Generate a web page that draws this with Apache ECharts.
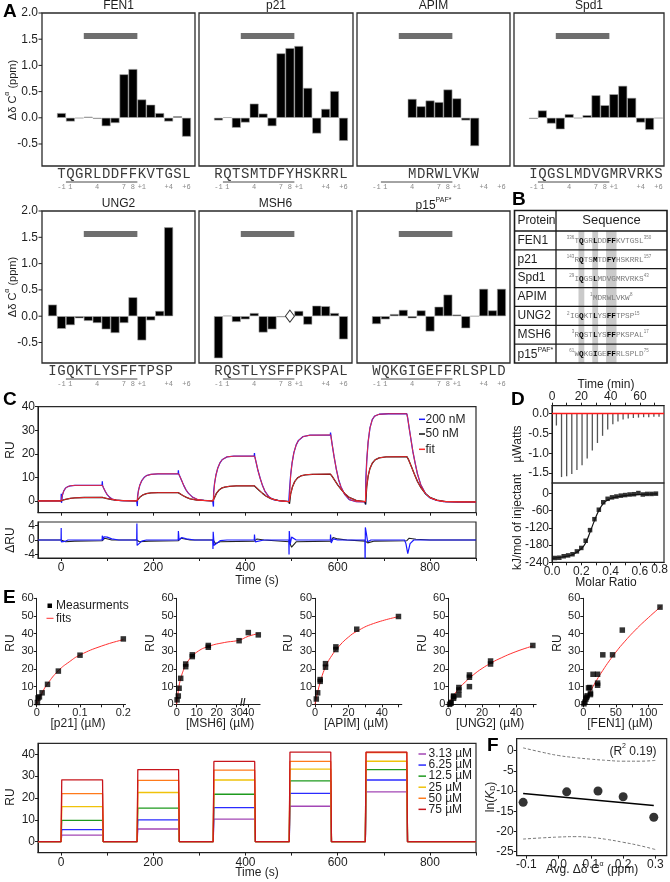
<!DOCTYPE html>
<html>
<head>
<meta charset="utf-8">
<title>PIP-box figure</title>
<script src="https://cdn.jsdelivr.net/npm/echarts@6/dist/echarts.min.js"></script>
<style>
html,body{margin:0;padding:0;background:#fff;}
#c{width:670px;height:882px;}
</style>
</head>
<body>
<div id="c"></div>
<script>
// ================= DATA =================
// ---- Panel A : chemical shift perturbations (ppm), index 0 = residue -1
const aNumbering = ['-1','1','','','4','','','7','8','+1','','','+4','','+6'];
const aYTicks = [-0.5,0,0.5,1,1.5,2];
const motifSpan = [3, 8];
const motifBarLevel = 1.56;
const underlineSpan = [1, 8];
const fen1Seq = 'TQGRLDDFFKVTGSL';
const fen1Start = 0;
const fen1Val = [0.09,-0.07,-0.01,0.02,-0.02,-0.16,-0.10,0.83,0.93,0.35,0.25,0.09,-0.07,0.03,-0.36];
const p21Seq = 'RQTSMTDFYHSKRRL';
const p21Start = 0;
const p21Val = [-0.05,0.01,-0.19,-0.09,0.27,0.08,-0.16,1.23,1.33,1.37,0.57,-0.30,0.17,0.51,-0.44];
const apimSeq = 'MDRWLVKW';
const apimStart = 4;
const apimVal = [0.36,0.22,0.33,0.30,0.54,0.37,-0.05,-0.54];
const spd1Seq = 'IQGSLMDVGMRVRKS';
const spd1Start = 0;
const spd1Val = [-0.02,0.14,-0.11,-0.22,0.07,-0.01,0.05,0.43,0.24,0.45,0.61,0.38,-0.09,-0.23,-0.01];
const ung2Seq = 'IGQKTLYSFFTPSP';
const ung2Start = -1;
const ung2Val = [0.22,-0.24,-0.17,-0.04,-0.09,-0.13,-0.25,-0.32,-0.13,0.36,-0.46,-0.08,0.10,1.69];
const msh6Seq = 'RQSTLYSFFPKSPAL';
const msh6Start = 0;
const msh6Val = [-0.80,0.01,-0.11,-0.06,0.06,-0.31,-0.25,-0.02,null,0.10,-0.16,0.20,0.19,0.06,-0.44];
const msh6Missing = [8];
const p15Seq = 'WQKGIGEFFRLSPLD';
const p15Start = 0;
const p15Val = [-0.15,-0.06,0.04,0.12,-0.04,0.11,-0.29,0.18,0.41,0.03,-0.23,0,0.52,0.11,0.52];

// ---- Panel B : table
const tblProteins = ['FEN1','p21','Spd1','APIM','UNG2','MSH6','p15'];
const tblSeqs = ['TQGRLDDFFKVTGSL','RQTSMTDFYHSKRRL','IQGSLMDVGMRVRKS','MDRWLVKW','IGQKTLYSFFTPSP','RQSTLYSFFPKSPAL','WQKGIGEFFRLSPLD'];
const tblStart = [0,0,0,4,-1,0,0];
const tblFirst = ['336','143','29','1','2','3','61'];
const tblLast = ['350','157','43','8','15','17','75'];
const tblBold = [[1,4,7,8],[1,4,7,8],[1,4],[],[1,4,7,8],[1,4,7,8],[1,4,7,8]];
const tblStripes = [[1,1],[4,4],[7,8]];

// ---- Panel C : SPR sensorgrams (time s, RU)
const c200 = [[-50,0],[0,0],[0.5,3.0],[1,-0.8],[3,2.5],[6,4.3],[10,5.5],[15,6.1],[20,6.4],[30,6.6],[60,6.6],[89,6.6],[89.5,8.3],[90,6.6],[92,5.6],[96,4.0],[100,2.7],[105,1.6],[110,0.9],[118,0.3],[130,0.1],[164,0.05],
 [165,0],[165.5,-2.2],[166,2.0],[168,4.5],[171,6.8],[175,8.6],[180,9.9],[185,10.7],[195,11.3],[210,11.5],[254,11.5],[254.5,13.0],[255,11.5],[258,10.3],[262,8.5],[266,6.6],[271,4.7],[276,3.3],[285,1.6],[295,0.7],[310,0.2],[329,0],
 [330,0],[330.5,-2.4],[331,4.0],[333,7.5],[336,11],[340,14],[345,16.3],[350,17.6],[360,18.7],[375,19.0],[419,19.0],[419.5,20.3],[420,19],[423,16.5],[427,13],[432,9.5],[437,6.5],[442,4.2],[450,1.9],[460,0.6],[475,0.0],[494,-0.3],
 [495,-0.3],[495.5,-1.0],[496,6],[498,11],[501,16],[505,20.5],[510,23.8],[515,25.7],[525,27.3],[540,27.9],[584,28.0],[584.5,29.0],[585,28],[588,24],[592,19],[597,13.5],[602,9],[607,6],[615,2.8],[625,0.6],[640,-0.3],[659,-0.4],
 [660,-0.4],[660.5,-1.5],[661,9],[663,17],[666,25],[670,31],[675,34.5],[680,36],[690,36.8],[710,37],[750,37],[750.5,37.3],[752,35],[755,31],[759,26],[763,21],[768,16],[773,11.5],[780,7],[790,3.2],[800,1.3],[815,0.2],[830,-0.3],[860,-0.5],[900,-0.5]];
const c50 = [[-50,0],[0,0],[0.5,0.8],[1,-0.3],[5,0.4],[10,0.7],[20,1.1],[30,1.3],[50,1.45],[89,1.5],[92,1.4],[100,1.0],[110,0.6],[120,0.35],[135,0.15],[164,0],
 [165,0],[165.5,-0.6],[168,0.9],[172,1.8],[178,2.6],[185,3.1],[195,3.4],[210,3.5],[254,3.5],[258,3.1],[265,2.2],[272,1.5],[280,0.9],[295,0.3],[329,0],
 [330,0],[330.5,-0.8],[333,1.5],[337,3.2],[342,4.5],[348,5.4],[355,5.9],[365,6.2],[380,6.4],[419,6.4],[423,5.8],[430,4.4],[437,3.2],[445,2.0],[455,1.0],[470,0.2],[494,-0.3],
 [495,-0.3],[495.5,-1.2],[498,3],[502,6],[507,8.3],[513,9.8],[520,10.6],[530,11.1],[545,11.3],[584,11.4],[588,10.4],[594,8.6],[600,6.8],[607,5],[615,3.2],[625,1.5],[640,0.2],[659,-0.3],
 [660,-0.3],[660.5,-1.5],[663,6],[666,10.5],[670,13.8],[675,16],[681,17.4],[690,18.3],[705,18.7],[750,18.8],[754,17.4],[760,14.5],[766,11.5],[773,8.3],[780,5.8],[790,3.2],[800,1.5],[815,0.3],[835,-0.3],[900,-0.4]];
const cFit200 = [[-50,0],[0,0],[3,2.5],[6,4.3],[10,5.5],[15,6.1],[20,6.4],[30,6.6],[90,6.6],[92,5.6],[96,4.0],[100,2.7],[105,1.6],[110,0.9],[118,0.3],[130,0.1],[165,0],
 [168,4.5],[171,6.8],[175,8.6],[180,9.9],[185,10.7],[195,11.3],[210,11.5],[255,11.5],[258,10.3],[262,8.5],[266,6.6],[271,4.7],[276,3.3],[285,1.6],[295,0.7],[310,0.2],[330,0],
 [333,7.5],[336,11],[340,14],[345,16.3],[350,17.6],[360,18.7],[375,19.0],[420,19.0],[423,16.5],[427,13],[432,9.5],[437,6.5],[442,4.2],[450,1.9],[460,0.6],[475,0.0],[495,-0.3],
 [498,11],[501,16],[505,20.5],[510,23.8],[515,25.7],[525,27.3],[540,27.9],[585,28.0],[588,24],[592,19],[597,13.5],[602,9],[607,6],[615,2.8],[625,0.6],[640,-0.3],[660,-0.4],
 [663,17],[666,25],[670,31],[675,34.5],[680,36],[690,36.8],[710,37],[750,37],[752,35],[755,31],[759,26],[763,21],[768,16],[773,11.5],[780,7],[790,3.2],[800,1.3],[815,0.2],[830,-0.3],[860,-0.5],[900,-0.5]];
const cFit50 = [[-50,0],[0,0],[5,0.4],[10,0.7],[20,1.1],[30,1.3],[50,1.45],[90,1.5],[92,1.4],[100,1.0],[110,0.6],[120,0.35],[135,0.15],[165,0],
 [168,0.9],[172,1.8],[178,2.6],[185,3.1],[195,3.4],[210,3.5],[255,3.5],[258,3.1],[265,2.2],[272,1.5],[280,0.9],[295,0.3],[330,0],
 [333,1.5],[337,3.2],[342,4.5],[348,5.4],[355,5.9],[365,6.2],[380,6.4],[420,6.4],[423,5.8],[430,4.4],[437,3.2],[445,2.0],[455,1.0],[470,0.2],[495,-0.3],
 [498,3],[502,6],[507,8.3],[513,9.8],[520,10.6],[530,11.1],[545,11.3],[585,11.4],[588,10.4],[594,8.6],[600,6.8],[607,5],[615,3.2],[625,1.5],[640,0.2],[660,-0.3],
 [663,6],[666,10.5],[670,13.8],[675,16],[681,17.4],[690,18.3],[705,18.7],[750,18.8],[754,17.4],[760,14.5],[766,11.5],[773,8.3],[780,5.8],[790,3.2],[800,1.5],[815,0.3],[835,-0.3],[900,-0.4]];
const cRes200 = [[-50,0],[0,0],[0.3,3.3],[0.6,-0.5],[3,-0.8],[8,-0.4],[15,0],[89,0],[89.5,1.2],[91,0],[93,0.9],[100,0.8],[110,0.3],[125,0],[164,0],[164.5,4.6],[165,-1.5],[168,-1.5],[175,-0.3],[185,0],[254,0],[254.5,2.5],[256,0],[262,0.7],[272,0.3],[290,0],[329,0],[329.5,-2.5],[330,2.3],[332,-1.5],[337,-1.0],[345,-0.2],[360,0],[419,0],[419.5,1.5],[421,-0.5],[425,-0.3],[440,0],[494,0],[494.5,-4],[495,2.5],[497,-1.2],[500,0.8],[503,0.5],[510,0],[584,0],[584.5,1.5],[586,-0.8],[590,0.3],[600,0],[659,0],[659.5,-7],[660,3.5],[662,2.0],[665,-0.5],[672,0],[745,0],[748,-1],[752,-3.8],[757,-1],[765,0],[900,0]];
const cRes50 = [[-50,0],[0,0],[2,-0.3],[10,-0.5],[30,-0.3],[89,-0.2],[95,0.5],[110,0],[164,0],[170,-0.5],[190,-0.3],[254,-0.2],[260,0.5],[280,0],[330,0],[335,-1],[345,-0.5],[419,-0.3],[425,0.3],[440,0],[495,-0.5],[500,-2],[510,-0.5],[585,-0.3],[590,0.7],[600,0.3],[620,0],[660,-0.3],[665,-0.8],[680,-0.3],[750,-0.2],[755,0.5],[770,0.2],[800,0],[900,0]];

// ---- Panel D : ITC
const itcTime = [3,6.5,10,13.5,17,20.5,24,27.5,31,34.5,38,41.5,45,48.5,52,55.5,59,62.5,66,69.5,73];
const itcPeak = [-0.3,-1.6,-1.58,-1.52,-1.42,-1.3,-1.13,-0.93,-0.74,-0.56,-0.4,-0.27,-0.2,-0.15,-0.12,-0.11,-0.1,-0.09,-0.09,-0.08,-0.08];
const itcRatio = [0.02,0.05,0.08,0.11,0.14,0.17,0.20,0.23,0.26,0.29,0.32,0.35,0.38,0.41,0.44,0.47,0.50,0.53,0.56,0.59,0.62,0.65,0.68,0.71];
const itcHeat = [-225,-224,-219,-216,-212,-202,-190,-165,-128,-90,-57,-31,-19,-14,-11,-8,-6,-4,-3,1,-4,-2,-2,-1];
const itcFit = [[0,-226],[0.1,-219],[0.15,-211],[0.2,-193],[0.23,-172],[0.26,-135],[0.29,-95],[0.32,-60],[0.35,-36],[0.38,-23],[0.42,-15],[0.5,-8],[0.6,-4],[0.72,-2]];

// ---- Panel E : steady-state binding
const p21Conc = [0.0016,0.0031,0.0063,0.0125,0.025,0.05,0.1,0.2];
const p21RU = [1.0,3.6,4.2,6.5,11.3,18.8,27.8,37.0];
const p21Fit = [[0,0],[0.0125,6.5],[0.025,11.6],[0.05,19],[0.075,24],[0.1,27.9],[0.15,33],[0.2,36.6]];
const msh6Conc = [0.2,0.8,1.2,2,4.5,4.5,7.8,7.8,15.8,15.8,31.2,40,80];
const msh6RU = [2.5,4.7,9.1,14.7,21.3,22.8,27.0,28.0,32.3,33.3,36.0,40.6,39.3];
const msh6Fit = [[0,0],[1,9],[2,14.5],[4,21],[6,25],[10,29.5],[16,32.8],[24,35],[31.2,36.3],[40,38.5],[80,40]];
const apimConc = [0.8,1.6,3.1,3.1,6.3,6.3,12.5,12.5,25,50];
const apimRU = [3,6.5,13,14,21,23,31,32.5,42.5,49.7];
const apimFit = [[0,0],[1.5,6.5],[3,12],[6,20.5],[10,27.5],[15,33.5],[20,38],[25,41.3],[35,45.7],[50,49.6]];
const ung2Conc = [0.78,1.56,1.56,3.13,3.13,3.13,6.25,6.25,6.25,12.5,12.5,12.5,25,25,50];
const ung2RU = [0,0.6,1.1,3.4,4.3,4.7,5.3,8.1,9.5,10,15.3,16.6,22.8,24.5,33.3];
const ung2Fit = [[0,0],[5,7.5],[10,12.6],[15,16.8],[20,20.3],[25,23.2],[30,25.7],[40,29.8],[50,33]];
const fen1Conc = [1,2.5,4,5,6,8,10,11,11,15,22,22,22,30,45,60,118];
const fen1RU = [0.3,1.2,3,4,4.8,9.3,9.5,6.3,5.5,17,17,12,10.8,28,28,42,55];
const fen1Fit = [[0,0],[10,6.8],[20,13.3],[30,19.2],[40,24.6],[50,29.5],[60,34],[80,42],[100,49],[120,55.5]];
const eInjStart = [0,165,330,495,660];
const eInjEnd = [90,255,420,585,750];
const eConcNames = ['3.13 µM','6.25 µM','12.5 µM','25 µM','50 µM','75 µM'];
const eConcColors = ['#a347b5','#2b2bff','#1e9a1e','#f0c20a','#ff7a1a','#c8161d'];
const ePlateau = [
  [3.0,5.8,10.3,16.2,22.8],
  [5.5,10.0,15.6,22.1,28.2],
  [9.7,15.3,21.7,27.8,33.0],
  [16.0,22.5,28.2,33.2,36.8],
  [22.0,28.0,32.7,36.7,40.8],
  [28.3,33.0,36.7,41.0,41.0]];

// ---- Panel F
const fX = [-0.11,0.025,0.122,0.2,0.295];
const fY = [-12.8,-10.2,-10.0,-11.4,-16.5];
const fLine = [[-0.11,-10.6],[0.295,-13.6]];
const fUpper = [[-0.11,0.7],[-0.05,-0.4],[0,-1.2],[0.05,-1.7],[0.1,-2.1],[0.15,-2.4],[0.2,-2.6],[0.25,-2.6],[0.3,-2.4]];
const fLower = [[-0.11,-21.9],[-0.05,-21.6],[0,-21.4],[0.05,-21.3],[0.1,-21.5],[0.15,-22],[0.2,-22.7],[0.25,-23.5],[0.3,-24.5]];

// ================= BUILD =================
const FONT = "'Liberation Sans', Arial, Helvetica, sans-serif";
const MONO = "'Liberation Mono', 'DejaVu Sans Mono', monospace";
const SLOT = 8.93;
const AX0 = 10; // residue index shift on the panel-A x axes (keeps the axis range positive)
const INK = '#1e1e1e';
const grid = [], xAxis = [], yAxis = [], series = [];
function addGrid(g){ grid.push(Object.assign({containLabel:false}, g)); return grid.length - 1; }
const tickLbl = {fontFamily:FONT, fontSize:11, color:INK};

// ---- A
const aPanels = [
 {title:'FEN1', seq:fen1Seq, start:fen1Start, val:fen1Val, box:[42,13,153,153], ymin:-0.92, yl:true},
 {title:'p21', seq:p21Seq, start:p21Start, val:p21Val, box:[199,13,154,153], ymin:-0.92},
 {title:'APIM', seq:apimSeq, start:apimStart, val:apimVal, box:[357,13,153,153], ymin:-0.92},
 {title:'Spd1', seq:spd1Seq, start:spd1Start, val:spd1Val, box:[514,13,150,153], ymin:-0.92},
 {title:'UNG2', seq:ung2Seq, start:ung2Start, val:ung2Val, box:[42,211,153,152], ymin:-0.89, yl:true},
 {title:'MSH6', seq:msh6Seq, start:msh6Start, val:msh6Val, box:[199,211,153,152], ymin:-0.89, missing:msh6Missing},
 {title:'p15', sup:'PAF*', seq:p15Seq, start:p15Start, val:p15Val, box:[357,211,153,152], ymin:-0.89}
];
aPanels.forEach(p => {
  const [L,T,Wd,H] = p.box;
  const gi = addGrid({left:L, top:T, width:Wd, height:H, show:true, borderColor:'#2a2a2a', borderWidth:1.3, backgroundColor:'rgba(0,0,0,0)'});
  p.gi = gi;
  const xmin = AX0 - 0.5 - 15/SLOT, xmax = xmin + Wd/SLOT;
  const idx = []; for (let k = Math.min(0,p.start); k <= 14; k++) idx.push(AX0 + k);
  xAxis.push({type:'value', gridIndex:gi, min:xmin, max:xmax, axisLine:{show:false}, axisTick:{show:false}, splitLine:{show:false},
    axisLabel:{customValues:idx, margin:0, formatter:(v)=>{ const k = Math.round(v) - AX0; const ch = p.seq[k - p.start] || ' '; const n = (k >= 0 && aNumbering[k]) ? aNumbering[k] : ' '; return '{l|' + ch + '}\n{n|' + n + '}'; },
      rich:{l:{fontFamily:MONO, fontSize:14, color:'#3a3a3a', lineHeight:16, align:'center'}, n:{fontFamily:MONO, fontSize:7, color:'#8a8a8a', lineHeight:10, align:'center'}}}});
  yAxis.push({type:'value', gridIndex:gi, position:'left', min:p.ymin, max:2.0, axisLine:{show:false}, splitLine:{show:false},
    axisTick:{show:false},
    axisLabel:{show:!!p.yl, customValues:aYTicks, formatter:v=>v.toFixed(1), fontFamily:FONT, fontSize:12, color:INK, margin:4}});
  series.push({type:'bar', xAxisIndex:gi, yAxisIndex:gi, barWidth:SLOT, silent:true,
    data:p.val.map((v,k)=>[AX0+p.start+k, v]).filter(d=>d[1]!==null),
    itemStyle:{color:'#000', borderColor:'#a8a8a8', borderWidth:0.6},
    markLine:{silent:true, symbol:['none','none'], label:{show:false}, emphasis:{disabled:true},
      lineStyle:{color:'#6e6e6e', width:6, type:'solid'},
      data:[[{coord:[AX0+motifSpan[0]-0.5, motifBarLevel]},{coord:[AX0+motifSpan[1]+0.5, motifBarLevel]}]]}});
  if (p.missing) series.push({type:'scatter', xAxisIndex:gi, yAxisIndex:gi, symbol:'diamond', symbolSize:[9,12], silent:true,
    data:p.missing.map(k=>[AX0+k,0]), itemStyle:{color:'#fff', borderColor:'#000', borderWidth:1}});
});

// ---- C
const timeTicks = []; for (let t = 0; t <= 900; t += 100) timeTicks.push(t);
const giC = addGrid({left:38, top:406.7, width:438, height:106, show:true, borderColor:'#2a2a2a', borderWidth:1.2});
xAxis.push({type:'value', gridIndex:giC, min:-50, max:900, splitLine:{show:false}, axisLine:{lineStyle:{color:INK}},
  axisLabel:{show:false}, axisTick:{customValues:timeTicks, length:3, lineStyle:{color:INK}}});
yAxis.push({type:'value', gridIndex:giC, min:-5, max:40, splitLine:{show:false}, axisLine:{show:true, lineStyle:{color:INK}},
  axisTick:{customValues:[0,10,20,30,40], length:3, lineStyle:{color:INK}}, axisLabel:Object.assign({customValues:[0,10,20,30,40], margin:3}, tickLbl, {fontSize:12})});
const lineS = (gi, data, color, w, name, z) => ({type:'line', name, xAxisIndex:gi, yAxisIndex:gi, data, symbol:'none', silent:true, z:z||2, lineStyle:{color, width:w}, itemStyle:{color}});
series.push(lineS(giC, c200, '#1a1aff', 1.3, '200 nM', 2));
series.push(lineS(giC, c50, '#111', 1.3, '50 nM', 3));
series.push(lineS(giC, cFit200, '#ff2a2a', 0.9, 'fit', 4));
series.push(lineS(giC, cFit50, '#ff2a2a', 0.9, 'fit', 4));
const giCr = addGrid({left:38, top:522, width:438, height:36, show:true, borderColor:'#2a2a2a', borderWidth:1.2});
xAxis.push({type:'value', gridIndex:giCr, min:-50, max:900, splitLine:{show:false}, axisLine:{lineStyle:{color:INK}},
  axisTick:{customValues:timeTicks, length:3, lineStyle:{color:INK}}, axisLabel:Object.assign({customValues:[0,200,400,600,800], margin:4}, tickLbl, {fontSize:12})});
yAxis.push({type:'value', gridIndex:giCr, min:-5, max:5, splitLine:{show:false}, axisLine:{show:true, lineStyle:{color:INK}},
  axisTick:{customValues:[-4,0,4], length:3, lineStyle:{color:INK}}, axisLabel:Object.assign({customValues:[-4,0,4], margin:3}, tickLbl, {fontSize:12})});
series.push(lineS(giCr, cRes50, '#222', 1.1, 'r50', 2));
series.push(lineS(giCr, cRes200, '#1a1aff', 1.2, 'r200', 3));

// ---- D
const giD1 = addGrid({left:552, top:405.7, width:112, height:77.3, show:true, borderColor:'#2a2a2a', borderWidth:1.2});
xAxis.push({type:'value', gridIndex:giD1, position:'top', min:0, max:76.4, splitLine:{show:false}, axisLine:{lineStyle:{color:INK}},
  axisTick:{customValues:[0,10,20,30,40,50,60,70], length:3, lineStyle:{color:INK}}, axisLabel:Object.assign({customValues:[0,20,40,60], margin:3}, tickLbl, {fontSize:12})});
yAxis.push({type:'value', gridIndex:giD1, min:-1.75, max:0.2, splitLine:{show:false}, axisLine:{show:true, lineStyle:{color:INK}},
  axisTick:{customValues:[0,-0.5,-1,-1.5], length:3, lineStyle:{color:INK}}, axisLabel:Object.assign({customValues:[0,-0.5,-1,-1.5], formatter:v=>v.toFixed(1), margin:3}, tickLbl, {fontSize:12})});
series.push({type:'bar', xAxisIndex:giD1, yAxisIndex:giD1, barWidth:1.3, silent:true, data:itcTime.map((t,i)=>[t, itcPeak[i]]), itemStyle:{color:'#555'},
  markLine:{silent:true, symbol:['none','none'], label:{show:false}, lineStyle:{color:'#ff1a1a', width:1.3, type:'solid'}, data:[{yAxis:0}]}});
const giD2 = addGrid({left:552, top:483, width:112, height:79.3, show:true, borderColor:'#2a2a2a', borderWidth:1.2});
xAxis.push({type:'value', gridIndex:giD2, min:0, max:0.765, splitLine:{show:false}, axisLine:{lineStyle:{color:INK}},
  axisTick:{customValues:[0,0.1,0.2,0.3,0.4,0.5,0.6,0.7], length:3, lineStyle:{color:INK}}, axisLabel:Object.assign({customValues:[0,0.2,0.4,0.6], formatter:v=>v.toFixed(1), margin:3}, tickLbl, {fontSize:12})});
yAxis.push({type:'value', gridIndex:giD2, min:-240, max:36, splitLine:{show:false}, axisLine:{show:true, lineStyle:{color:INK}},
  axisTick:{customValues:[0,-60,-120,-180,-240], length:3, lineStyle:{color:INK}}, axisLabel:Object.assign({customValues:[0,-60,-120,-180,-240], margin:3}, tickLbl, {fontSize:12})});
series.push({type:'line', xAxisIndex:giD2, yAxisIndex:giD2, data:itcFit, smooth:true, symbol:'none', silent:true, lineStyle:{color:'#111', width:1.2}});
series.push({type:'scatter', xAxisIndex:giD2, yAxisIndex:giD2, data:itcRatio.map((x,i)=>[x, itcHeat[i]]), symbol:'rect', symbolSize:4.5, silent:true, itemStyle:{color:'#000'}});

// ---- E top
const msh6Disp = c => c <= 32 ? c : 35.8 + (c - 40) / 8;
const eTop = [
 {conc:p21Conc, ru:p21RU, fit:p21Fit, left:36.7, width:88.8, max:0.205, ticks:[0,0.05,0.1,0.15,0.2], labels:[0,0.1,0.2], map:c=>c, fmt:v=>v===0?'0':String(Math.round(v*10)/10)},
 {conc:msh6Conc, ru:msh6RU, fit:msh6Fit, left:176.7, width:83.4, max:41.7, ticks:[0,10,20,30,msh6Disp(40),msh6Disp(80)], labels:[0,10,20,30,msh6Disp(40),msh6Disp(80)], map:msh6Disp, fmt:v=>v<=32?String(v):(Math.abs(v-msh6Disp(40))<0.01?'40':'80')},
 {conc:apimConc, ru:apimRU, fit:apimFit, left:315, width:86.8, max:52, ticks:[0,10,20,30,40,50], labels:[0,20,40], map:c=>c, fmt:v=>String(v)},
 {conc:ung2Conc, ru:ung2RU, fit:ung2Fit, left:448.3, width:87.9, max:52, ticks:[0,10,20,30,40,50], labels:[0,20,40], map:c=>c, fmt:v=>String(v)},
 {conc:fen1Conc, ru:fen1RU, fit:fen1Fit, left:583.3, width:79.3, max:122, ticks:[0,25,50,75,100], labels:[0,50,100], map:c=>c, fmt:v=>String(v)}
];
eTop.forEach(e => {
  const gi = addGrid({left:e.left, top:598.3, width:e.width, height:106});
  e.gi = gi;
  xAxis.push({type:'value', gridIndex:gi, min:0, max:e.max, splitLine:{show:false}, axisLine:{lineStyle:{color:INK}},
    axisTick:{customValues:e.ticks, length:3, lineStyle:{color:INK}}, axisLabel:Object.assign({customValues:e.labels, formatter:e.fmt, margin:3}, tickLbl, {fontSize:11})});
  yAxis.push({type:'value', gridIndex:gi, min:0, max:60, splitLine:{show:false}, axisLine:{show:true, lineStyle:{color:INK}},
    axisTick:{customValues:[0,10,20,30,40,50,60], length:3, lineStyle:{color:INK}}, axisLabel:Object.assign({customValues:[0,10,20,30,40,50,60], margin:3}, tickLbl, {fontSize:11})});
  series.push({type:'line', xAxisIndex:gi, yAxisIndex:gi, smooth:true, symbol:'none', silent:true, data:e.fit.map(d=>[e.map(d[0]), d[1]]), lineStyle:{color:'#ff3030', width:1}, z:3});
  series.push({type:'scatter', xAxisIndex:gi, yAxisIndex:gi, symbol:'rect', symbolSize:5.5, silent:true, data:e.conc.map((c,i)=>[e.map(c), e.ru[i]]), itemStyle:{color:'#000'}, z:4});
});

// ---- E bottom
const giEb = addGrid({left:38, top:743.3, width:438, height:109.3, show:true, borderColor:'#2a2a2a', borderWidth:1.2});
xAxis.push({type:'value', gridIndex:giEb, min:-50, max:900, splitLine:{show:false}, axisLine:{lineStyle:{color:INK}},
  axisTick:{customValues:timeTicks, length:3, lineStyle:{color:INK}}, axisLabel:Object.assign({customValues:[0,200,400,600,800], margin:4}, tickLbl, {fontSize:12})});
yAxis.push({type:'value', gridIndex:giEb, min:-5, max:45, splitLine:{show:false}, axisLine:{show:true, lineStyle:{color:INK}},
  axisTick:{customValues:[0,10,20,30,40], length:3, lineStyle:{color:INK}}, axisLabel:Object.assign({customValues:[0,10,20,30,40], margin:3}, tickLbl, {fontSize:12})});
ePlateau.forEach((pl, ci) => {
  const d = [[-50,0]];
  eInjStart.forEach((s, k) => { d.push([s,0],[s+1.5,pl[k]],[eInjEnd[k],pl[k]],[eInjEnd[k]+1.5,0]); });
  d.push([900,0]);
  series.push({type:'line', xAxisIndex:giEb, yAxisIndex:giEb, data:d, symbol:'none', silent:true, z:2+ci, lineStyle:{color:eConcColors[ci], width:1.3}});
});

// ---- F
const giF = addGrid({left:516.7, top:738.6, width:150, height:117, show:true, borderColor:'#2a2a2a', borderWidth:1.2});
xAxis.push({type:'value', gridIndex:giF, min:-0.13, max:0.335, splitLine:{show:false}, axisLine:{lineStyle:{color:INK}},
  axisTick:{customValues:[-0.1,0,0.1,0.2,0.3], length:3, lineStyle:{color:INK}}, axisLabel:Object.assign({customValues:[-0.1,0,0.1,0.2,0.3], formatter:v=>v.toFixed(1), margin:3}, tickLbl, {fontSize:12})});
yAxis.push({type:'value', gridIndex:giF, min:-26, max:3, splitLine:{show:false}, axisLine:{show:true, lineStyle:{color:INK}},
  axisTick:{customValues:[0,-5,-10,-15,-20,-25], length:3, lineStyle:{color:INK}}, axisLabel:Object.assign({customValues:[0,-5,-10,-15,-20,-25], margin:3}, tickLbl, {fontSize:12})});
series.push({type:'line', xAxisIndex:giF, yAxisIndex:giF, data:fUpper, smooth:true, symbol:'none', silent:true, lineStyle:{color:'#666', width:0.9, type:[3,2]}});
series.push({type:'line', xAxisIndex:giF, yAxisIndex:giF, data:fLower, smooth:true, symbol:'none', silent:true, lineStyle:{color:'#666', width:0.9, type:[3,2]}});
series.push({type:'line', xAxisIndex:giF, yAxisIndex:giF, data:fLine, symbol:'none', silent:true, lineStyle:{color:'#000', width:1.6}});
series.push({type:'scatter', xAxisIndex:giF, yAxisIndex:giF, data:fX.map((x,i)=>[x,fY[i]]), symbolSize:9, silent:true, itemStyle:{color:'#000'}});

// axes never cross at zero
xAxis.concat(yAxis).forEach(a => { a.axisLine = Object.assign({}, a.axisLine, {onZero:false}); });

const chart = echarts.init(document.getElementById('c'), null, {renderer:'canvas'});
chart.setOption({animation:false, backgroundColor:'#fff', grid, xAxis, yAxis, series});

// ================= GRAPHICS (text, table, legends) =================
const G = [];
function T(x, y, text, o) {
  o = o || {};
  return {type:'text', x, y, rotation:o.rot ? Math.PI/2 : 0, z:100, silent:true,
    style:{text, fill:o.color || INK, fontSize:o.size || 12, fontFamily:o.family || FONT, fontWeight:o.weight || 'normal',
      align:o.align || 'center', verticalAlign:o.va || 'middle', rich:o.rich}};
}
const supRich = (size) => ({a:{fontSize:size, fontFamily:FONT, fill:INK, lineHeight:size+3, verticalAlign:'bottom'},
  s:{fontSize:Math.round(size*0.62), fontFamily:FONT, fill:INK, lineHeight:Math.round(size*0.62)+1, verticalAlign:'top'},
  i:{fontSize:size, fontFamily:FONT, fontStyle:'italic', fill:INK, lineHeight:size+3, verticalAlign:'bottom'},
  d:{fontSize:Math.round(size*0.62), fontFamily:FONT, fill:INK, lineHeight:Math.round(size*0.62)+1, verticalAlign:'bottom'}});
// panel letters
[['A',3,12],['B',512,200],['C',3,400],['D',511,400],['E',3,598],['F',487,746]].forEach(l => G.push(T(l[1], l[2], l[0], {size:19, weight:'bold', align:'left', color:'#000'})));
// A titles, y ticks, underlines
aPanels.forEach(p => {
  const [L,T0,Wd,H] = p.box;
  if (p.sup) G.push(T(L+Wd/2, T0-7, '{a|'+p.title+'}{s|'+p.sup+'}', {rich:supRich(12)}));
  else G.push(T(L+Wd/2, T0-7, p.title, {size:12}));
  if (p.yl) aYTicks.forEach(v => {
    const py = chart.convertToPixel({gridIndex:p.gi}, [AX0, v])[1];
    G.push({type:'line', z:100, silent:true, shape:{x1:L-3.5, y1:py, x2:L, y2:py}, style:{stroke:INK, lineWidth:1}});
  });
  const a = chart.convertToPixel({gridIndex:p.gi}, [AX0+underlineSpan[0]-0.5, 0]);
  const b = chart.convertToPixel({gridIndex:p.gi}, [AX0+underlineSpan[1]+0.5, 0]);
  const yy = T0 + H + 16;
  G.push({type:'line', z:100, silent:true, shape:{x1:a[0], y1:yy, x2:b[0], y2:yy}, style:{stroke:'#333', lineWidth:0.9}});
});
G.push(T(11, 90, '{a|Δδ C}{s|α}{a| (ppm)}', {rot:true, rich:supRich(11)}));
G.push(T(11, 287, '{a|Δδ C}{s|α}{a| (ppm)}', {rot:true, rich:supRich(11)}));
// C texts + legend
G.push(T(11, 450, 'RU', {rot:true, size:12}));
G.push(T(11, 540, 'ΔRU', {rot:true, size:12}));
G.push(T(257, 581, 'Time (s)', {size:12}));
[['200 nM','#1a1aff',419.3],['50 nM','#111',434],['fit','#ff2a2a',449.3]].forEach(l => {
  G.push({type:'line', z:100, silent:true, shape:{x1:419, y1:l[2], x2:425, y2:l[2]}, style:{stroke:l[1], lineWidth:1.5}});
  G.push(T(425.5, l[2], l[0], {size:12, align:'left'}));
});
// D texts
G.push(T(606, 385, 'Time (min)', {size:12}));
G.push(T(518, 444, 'µWatts', {rot:true, size:12}));
G.push(T(518, 522, 'kJ/mol of injectant', {rot:true, size:12}));
G.push(T(606, 583, 'Molar Ratio', {size:12}));
G.push(T(668, 570, '0.8', {size:12, align:'right'}));
// E top texts + legend
eTop.forEach(e => G.push(T(e.left - 26, 643, 'RU', {rot:true, size:12})));
[['[p21] (µM)',78],['[MSH6] (µM)',220],['[APIM] (µM)',356],['[UNG2] (µM)',490],['[FEN1] (µM)',620]].forEach(l => G.push(T(l[1], 723.5, l[0], {size:12})));
G.push({type:'rect', z:100, silent:true, shape:{x:47.5, y:603.5, width:4.5, height:4.5}, style:{fill:'#000'}});
G.push(T(56, 605.7, 'Measurments', {size:12, align:'left'}));
G.push({type:'line', z:100, silent:true, shape:{x1:46.5, y1:618.3, x2:53.5, y2:618.3}, style:{stroke:'#ff3030', lineWidth:1}});
G.push(T(56, 618.3, 'fits', {size:12, align:'left'}));
{ const e = eTop[1]; const p = chart.convertToPixel({gridIndex:e.gi}, [33, 0]); G.push(T(p[0], p[1]-1, '//', {size:10, weight:'bold'})); }
// E bottom texts + legend
G.push(T(11, 797, 'RU', {rot:true, size:12}));
G.push(T(257, 873, 'Time (s)', {size:12}));
eConcNames.forEach((n, i) => {
  const y = 754 + i*11.07;
  G.push({type:'line', z:100, silent:true, shape:{x1:418.5, y1:y, x2:426, y2:y}, style:{stroke:eConcColors[i], lineWidth:1.5}});
  G.push(T(428.5, y, n, {size:12, align:'left'}));
});
// F texts
G.push(T(489, 797, '{a|ln(}{i|K}{d|D}{a|)}', {rot:true, rich:supRich(12)}));
G.push(T(592, 868.5, '{a|Avg. Δδ C}{s|α}{a| (ppm)}', {rich:supRich(12)}));
G.push(T(633, 750, '{a|(R}{s|2}{a| 0.19)}', {rich:supRich(12)}));

// ---- B table
const tb = {L:514.5, R:667, T:210.5, H0:231, B:363, colX:556};
const rowH = (tb.B - tb.H0) / 7;
const cw = 4.6, seqX0 = 574.5;
tblStripes.forEach(s => G.push({type:'rect', z:90, silent:true, shape:{x:seqX0 + cw*s[0] - 0.6, y:tb.H0, width:cw*(s[1]-s[0]+1) + 1.2, height:tb.B - tb.H0}, style:{fill:'#cacaca'}}));
G.push({type:'rect', z:101, silent:true, shape:{x:tb.L, y:tb.T, width:tb.R-tb.L, height:tb.B-tb.T}, style:{fill:'none', stroke:'#1a1a1a', lineWidth:1.6}});
G.push({type:'line', z:101, silent:true, shape:{x1:tb.colX, y1:tb.T, x2:tb.colX, y2:tb.B}, style:{stroke:'#1a1a1a', lineWidth:1.3}});
for (let r = 0; r < 7; r++) { const y = tb.H0 + rowH*r; G.push({type:'line', z:101, silent:true, shape:{x1:tb.L, y1:y, x2:tb.R, y2:y}, style:{stroke:'#1a1a1a', lineWidth:1.3}}); }
G.push(T(tb.L + 3, (tb.T + tb.H0)/2, 'Protein', {size:12, align:'left'}));
G.push(T((tb.colX + tb.R)/2, (tb.T + tb.H0)/2, 'Sequence', {size:13}));
tblProteins.forEach((name, r) => {
  const yc = tb.H0 + rowH*(r + 0.5);
  if (name === 'p15') G.push(T(tb.L + 3, yc, '{a|p15}{s|PAF*}', {align:'left', rich:supRich(12)}));
  else G.push(T(tb.L + 3, yc, name, {size:12, align:'left'}));
  const seq = tblSeqs[r], st = tblStart[r];
  for (let j = 0; j < seq.length; j++) {
    const bold = tblBold[r].indexOf(st + j) >= 0;
    G.push(T(seqX0 + cw*(st + j + 0.5), yc + 0.5, seq[j], {size:7.7, family:MONO, weight:bold ? 'bold' : 'normal', color:bold ? '#000' : '#7a7a7a'}));
  }
  G.push(T(seqX0 + cw*st - 0.3, yc - 2.5, tblFirst[r], {size:4.5, family:FONT, align:'right', color:'#7a7a7a'}));
  G.push(T(seqX0 + cw*(st + seq.length) + 0.3, yc - 2.5, tblLast[r], {size:4.5, family:FONT, align:'left', color:'#7a7a7a'}));
});

chart.setOption({graphic:G});
</script>
</body>
</html>
